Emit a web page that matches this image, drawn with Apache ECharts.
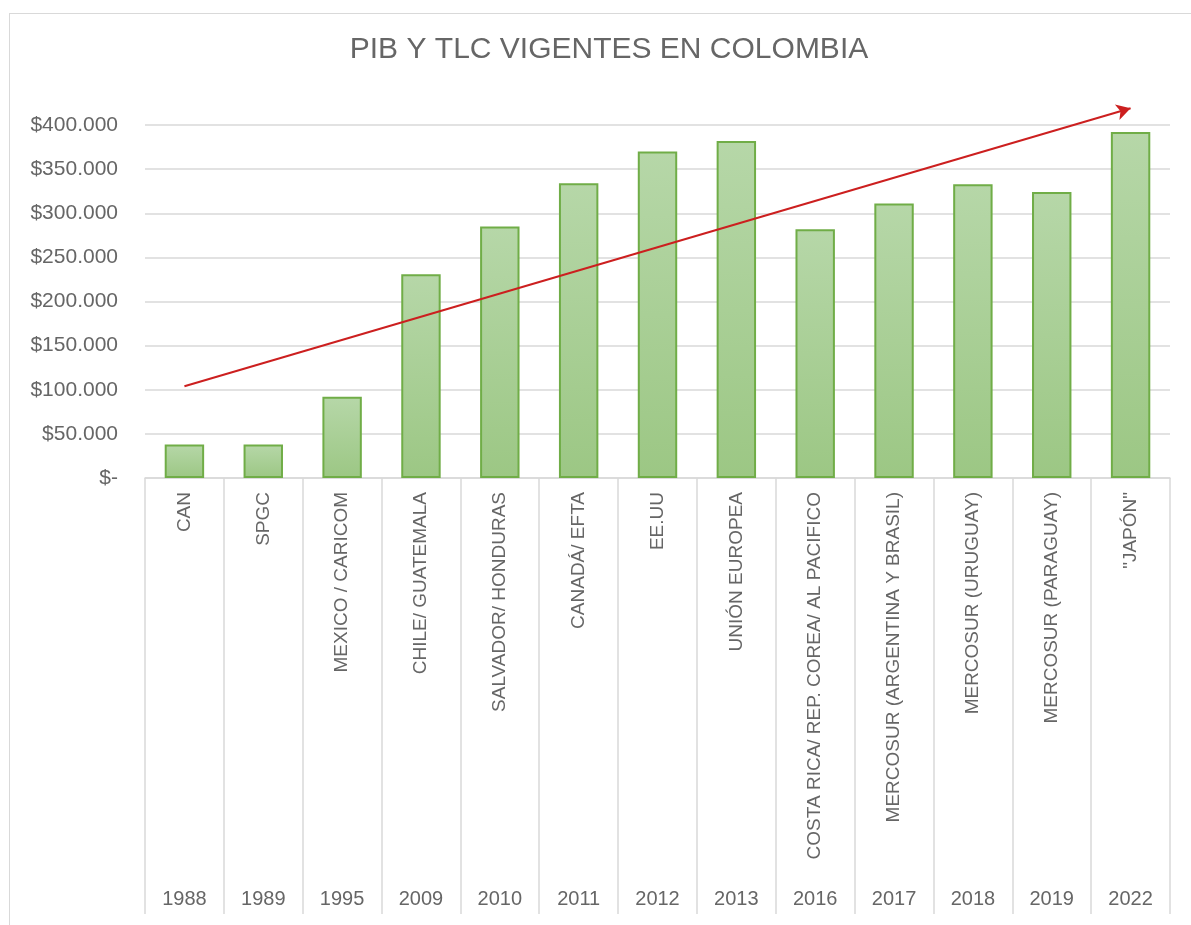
<!DOCTYPE html>
<html>
<head>
<meta charset="utf-8">
<script src="https://cdn.jsdelivr.net/npm/echarts@6/dist/echarts.min.js"></script>
<style>
  html, body { margin: 0; padding: 0; background: #fff; }
  .frame { position: absolute; left: 9px; top: 13px; width: 1300px; height: 1000px; border: 1px solid #d9d9d9; }
  #chart { position: absolute; left: 0; top: 0; width: 1191px; height: 925px; }
</style>
</head>
<body>
<div class="frame"></div>
<div id="chart"></div>
<script>
// acuerdos (etiqueta girada) y año de entrada en vigor
const agreements = [
  'CAN', 'SPGC', 'MEXICO / CARICOM', 'CHILE/ GUATEMALA', 'SALVADOR/ HONDURAS',
  'CANADÁ/ EFTA', 'EE.UU', 'UNIÓN EUROPEA', 'COSTA RICA/ REP. COREA/ AL PACIFICO',
  'MERCOSUR (ARGENTINA Y BRASIL)', 'MERCOSUR (URUGUAY)', 'MERCOSUR (PARAGUAY)', '"JAPÓN"'
];
const years = ['1988', '1989', '1995', '2009', '2010', '2011', '2012', '2013', '2016', '2017', '2018', '2019', '2022'];

// PIB (millones de USD)
const pib = [38000, 38000, 92000, 231000, 285000, 334000, 370000, 382000, 282000, 311000, 333000, 324000, 392000];

// flecha de tendencia: [índice de categoría, valor]
const trendStart = [0, 104000];
const trendEnd = [12, 419000];

const yTicks = { min: 0, max: 425000, interval: 50000 };

const fmtMoney = v => {
  if (v === 0) return '$-';
  return '$' + String(v).replace(/\B(?=(\d{3})+(?!\d))/g, '.');
};

const chart = echarts.init(document.getElementById('chart'));

const option = {
  animation: false,
  backgroundColor: 'transparent',
  textStyle: { fontFamily: 'Liberation Sans' },
  title: {
    text: 'PIB Y TLC VIGENTES EN COLOMBIA',
    left: 604,
    textAlign: 'center',
    top: 30,
    textStyle: { fontSize: 30, fontWeight: 'normal', color: '#666666', fontFamily: 'Liberation Sans' }
  },
  grid: { left: 145, right: 21, top: 103, bottom: 447, containLabel: false },
  xAxis: [
    {
      type: 'category',
      data: agreements,
      position: 'bottom',
      axisLine: { show: true, lineStyle: { color: '#d9d9d9', width: 1.5 } },
      axisTick: { show: true, interval: 0, length: 436, lineStyle: { color: '#d9d9d9', width: 1.5 } },
      axisLabel: { interval: 0, rotate: 90, margin: 14, fontSize: 19, color: '#666666' }
    },
    {
      type: 'category',
      data: years,
      position: 'bottom',
      offset: 400,
      axisLine: { show: false },
      axisTick: { show: false },
      axisLabel: { interval: 0, margin: 11, fontSize: 20, color: '#666666' }
    }
  ],
  yAxis: {
    type: 'value',
    min: yTicks.min,
    max: yTicks.max,
    interval: yTicks.interval,
    axisLine: { show: false },
    axisTick: { show: false },
    splitLine: { show: true, showMaxLine: false, lineStyle: { color: '#d9d9d9', width: 1.5 } },
    axisLabel: { showMaxLabel: false, margin: 27, fontSize: 21, color: '#666666', formatter: fmtMoney }
  },
  series: [
    {
      name: 'PIB',
      type: 'bar',
      xAxisIndex: 0,
      data: pib,
      barCategoryGap: '50%',
      itemStyle: {
        color: new echarts.graphic.LinearGradient(0, 0, 0, 1, [
          { offset: 0, color: '#b6d7a8' },
          { offset: 1, color: '#9cc784' }
        ]),
        borderColor: '#70ad47',
        borderWidth: 2
      },
      markLine: {
        silent: true,
        symbol: ['none', 'arrow'],
        symbolSize: [12, 14],
        label: { show: false },
        lineStyle: { color: '#cc1f1f', width: 2, type: 'solid' },
        data: [[{ coord: trendStart }, { coord: trendEnd }]]
      }
    }
  ]
};

chart.setOption(option);
</script>
</body>
</html>
